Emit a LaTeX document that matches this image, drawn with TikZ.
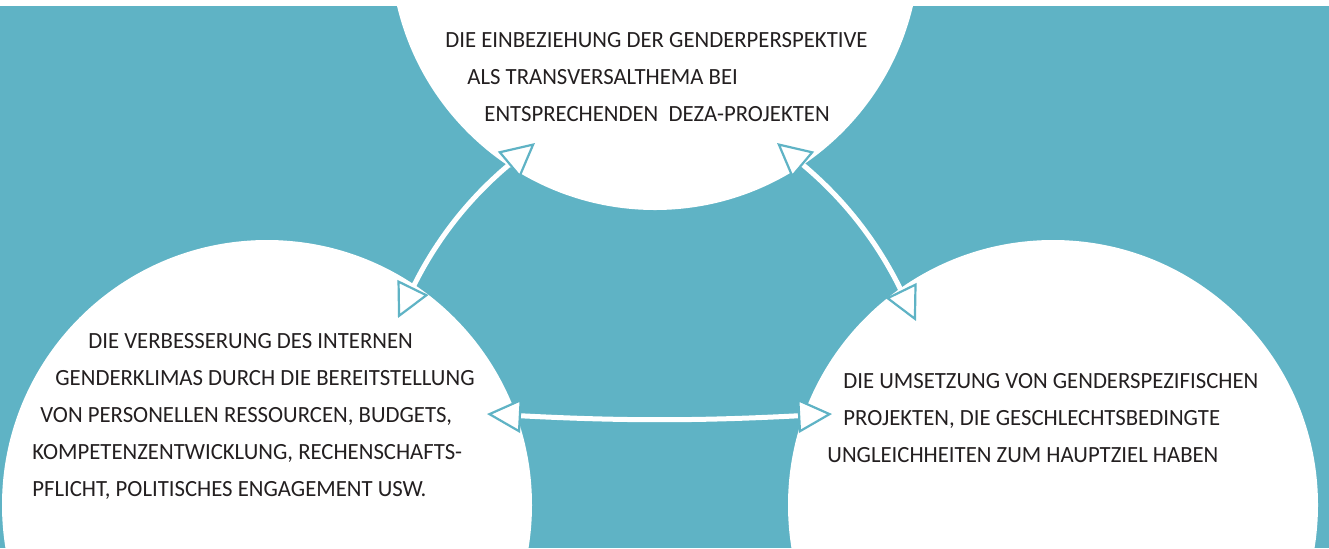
\documentclass[tikz,border=0pt]{standalone}
\usepackage{fontspec}
\setmainfont{Carlito}[FakeStretch=0.98]
\usetikzlibrary{arrows.meta}
\definecolor{dezablau}{RGB}{95,179,197}
\definecolor{textgrau}{RGB}{35,31,32}

\begin{document}
\begin{tikzpicture}[x=0.5pt, y=-0.5pt,
    kreis/.style={circle, fill=white, minimum size=265pt, inner sep=0pt},
    block/.style={anchor=north west, inner sep=0pt, align=left, text=textgrau,
      font=\fontsize{11.6}{18.5}\selectfont},
    spitze/.tip={Triangle[fill=white, color=dezablau, line width=1.1pt, length=17pt, width=17pt]},
    pfeil/.style={draw=white, line width=2.5pt, arrows={spitze-spitze}}]
    \useasboundingbox (0,0) rectangle (1329,548);
    \fill[white] (0,0) rectangle (1329,548);
    \fill[dezablau] (0,6) rectangle (1329,548);

    \node[kreis] (einbez) at (655,-55) {};
    \node[kreis] (intern) at (267,505) {};
    \node[kreis] (umsetz) at (1053,505) {};

    \coordinate (a1) at (398,318);
    \coordinate (a2) at (535,143);
    \coordinate (b1) at (777,143);
    \coordinate (b2) at (916,321);
    \coordinate (c1) at (487,414);
    \coordinate (c2) at (832,414);
    \draw[pfeil] (a1) to[bend left=12] (a2);
    \draw[pfeil] (b1) to[bend left=12] (b2);
    \draw[pfeil] (c1) to[bend right=3] (c2);

    \node[block] (txtoben) at (445,32) {DIE EINBEZIEHUNG DER GENDERPERSPEKTIVE\\
      \hspace*{11pt}ALS TRANSVERSALTHEMA BEI\\
      \hspace*{19.5pt}ENTSPRECHENDEN\ \ DEZA-PROJEKTEN};
    \node[block] (txtlinks) at (32,333) {\hspace*{28pt}DIE VERBESSERUNG DES INTERNEN\\
      \hspace*{11.5pt}GENDERKLIMAS DURCH DIE BEREITSTELLUNG\\
      \hspace*{4pt}VON PERSONELLEN RESSOURCEN, BUDGETS,\\
      KOMPETENZENTWICKLUNG, RECHENSCHAFTS-\\
      PFLICHT, POLITISCHES ENGAGEMENT USW.};
    \node[block] (txtrechts) at (827,373) {\hspace*{8pt}DIE UMSETZUNG VON GENDERSPEZIFISCHEN\\
      \hspace*{8pt}PROJEKTEN, DIE GESCHLECHTSBEDINGTE\\
      UNGLEICHHEITEN ZUM HAUPTZIEL HABEN};
\end{tikzpicture}
\end{document}
